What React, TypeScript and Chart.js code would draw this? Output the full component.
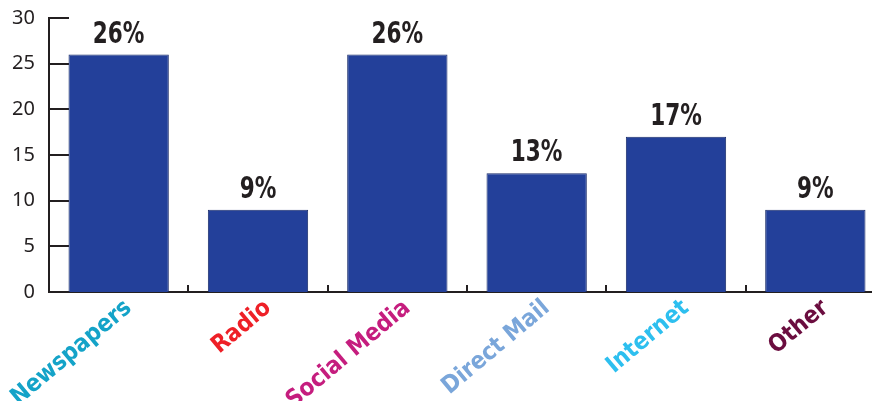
import React, { useEffect, useRef } from "react";
import { Chart, registerables } from "chart.js";

Chart.register(...registerables);

const categories = ["Newspapers", "Radio", "Social Media", "Direct Mail", "Internet", "Other"];
const values = [26, 9, 26, 13, 17, 9];
const valueLabels = ["26%", "9%", "26%", "13%", "17%", "9%"];
const labelColors = ["#14A3C8", "#EE2027", "#C51D7E", "#7AA6DA", "#2DBFEF", "#6B0D3F"];
const yMin = 0;
const yMax = 30;
const yStep = 5;

const AXIS = "#231f20";
const BAR = "#23409A";
const BAR_BORDER = "#1a2c6a";
const CONDENSED = '"DejaVu Sans Condensed", "DejaVu Sans", sans-serif';

const innerTicks = {
  id: "innerTicks",
  beforeDatasetsDraw(chart: any) {
    const { ctx, chartArea, scales } = chart;
    const y = scales.y;
    const x = scales.x;
    ctx.save();
    ctx.strokeStyle = AXIS;
    ctx.lineWidth = 2;
    for (let v = yMin; v <= yMax; v += yStep) {
      const py = Math.round(y.getPixelForValue(v));
      ctx.beginPath();
      ctx.moveTo(chartArea.left, py);
      ctx.lineTo(chartArea.left + 20, py);
      ctx.stroke();
    }
    for (let i = 1; i < categories.length; i++) {
      const px = Math.round((x.getPixelForValue(i - 1) + x.getPixelForValue(i)) / 2);
      ctx.beginPath();
      ctx.moveTo(px, chartArea.bottom);
      ctx.lineTo(px, chartArea.bottom - 7);
      ctx.stroke();
    }
    ctx.restore();
  },
};

const valueLabelPlugin = {
  id: "valueLabels",
  afterDatasetsDraw(chart: any) {
    const { ctx } = chart;
    const meta = chart.getDatasetMeta(0);
    ctx.save();
    ctx.fillStyle = "#231f20";
    ctx.font = `bold 30px ${CONDENSED}`;
    ctx.textAlign = "center";
    ctx.textBaseline = "alphabetic";
    meta.data.forEach((el: any, i: number) => {
      ctx.save();
      ctx.translate(el.x, el.y - 12);
      ctx.scale(0.8, 1);
      ctx.fillText(valueLabels[i], 0, 0);
      ctx.restore();
    });
    ctx.restore();
  },
};

export default function App() {
  const ref = useRef<HTMLCanvasElement>(null);
  useEffect(() => {
    if (!ref.current) return;
    const chart = new Chart(ref.current, {
      type: "bar",
      data: {
        labels: categories,
        datasets: [
          {
            data: values,
            backgroundColor: BAR,
            borderColor: BAR_BORDER,
            borderWidth: 1,
            barPercentage: 0.72,
            categoryPercentage: 1,
          },
        ],
      },
      options: {
        responsive: true,
        maintainAspectRatio: false,
        animation: false,
        layout: { padding: { top: 10, left: 0, right: 3, bottom: 0 } },
        plugins: { legend: { display: false }, tooltip: { enabled: false } },
        scales: {
          x: {
            grid: { display: false, drawTicks: false },
            border: { display: true, color: AXIS, width: 2 },
            ticks: {
              autoSkip: false,
              minRotation: 40,
              maxRotation: 40,
              padding: 2,
              labelOffset: 10,
              color: (c: any) => labelColors[c.index],
              font: { family: CONDENSED, size: 24, weight: "bold" },
            },
            afterFit: (s: any) => {
              s.height = 109;
              s.paddingLeft = 0;
              s.paddingRight = 0;
            },
          },
          y: {
            min: yMin,
            max: yMax,
            grid: { display: false, drawTicks: false },
            border: { display: true, color: AXIS, width: 2 },
            ticks: {
              stepSize: yStep,
              padding: 14,
              color: AXIS,
              font: { family: '"Noto Sans", sans-serif', size: 20 },
            },
            afterFit: (s: any) => {
              s.width = 41;
              s.paddingTop = 0;
              s.paddingBottom = 0;
            },
          },
        },
      },
      plugins: [innerTicks, valueLabelPlugin],
    });
    return () => chart.destroy();
  }, []);
  return (
    <div style={{ width: 872, height: 393, overflow: "hidden" }}>
      <div style={{ width: 880, height: 393, position: "relative" }}>
        <canvas ref={ref} />
      </div>
    </div>
  );
}
